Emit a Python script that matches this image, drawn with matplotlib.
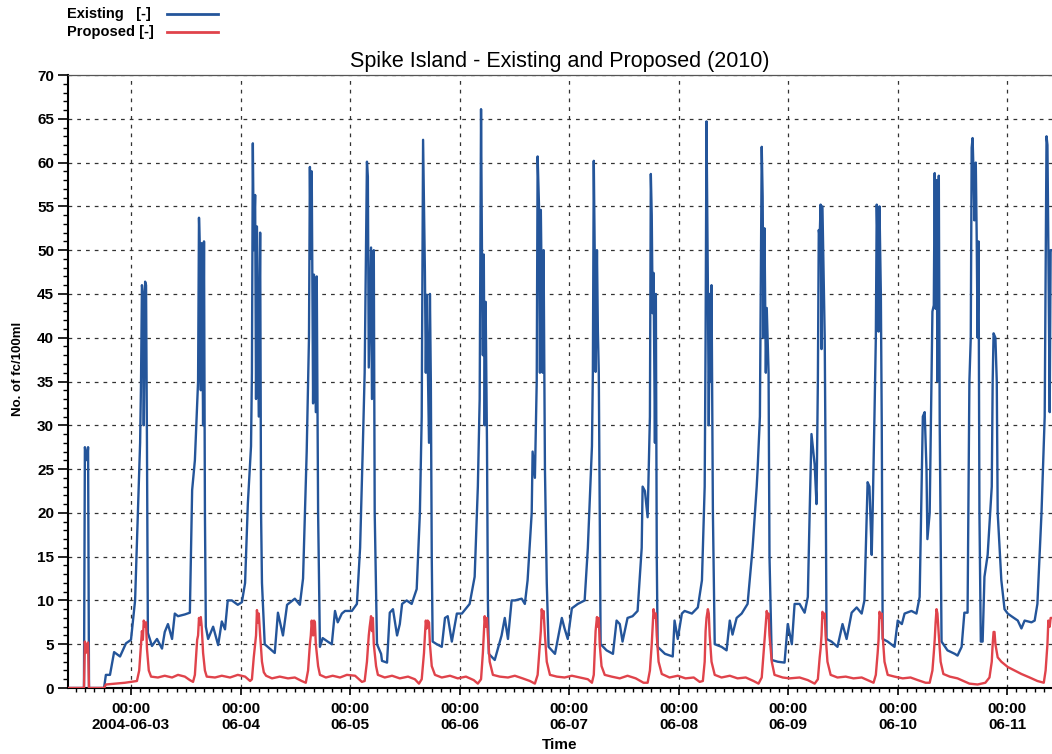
import matplotlib
matplotlib.use("Agg")
import matplotlib.pyplot as plt
import matplotlib.dates as mdates
import pandas as pd
from matplotlib.lines import Line2D
from matplotlib.ticker import MultipleLocator, FixedLocator, FixedFormatter

plt.rcParams['font.family'] = ['Liberation Sans', 'DejaVu Sans']

# ---------------- data ----------------
start = pd.Timestamp("2004-06-02 00:00")

# hours after 2004-06-02 00:00
existing_hours = [10.2, 13.7, 13.9, 14.4, 14.6, 14.8, 18.1, 18.5, 19.4, 20.3, 21.6, 22.9, 24.0, 24.9, 25.5, 26.0, 26.2, 26.4, 26.6, 26.8,
    27.1, 27.3, 27.5, 27.7, 28.6, 29.7, 30.8, 31.4, 32.1, 33.0, 33.6, 34.3, 35.8, 36.9, 37.4, 38.0, 38.7, 38.9, 39.1, 39.3,
    39.5, 39.8, 40.0, 40.2, 40.4, 40.9, 42.0, 43.1, 43.9, 44.6, 45.2, 46.1, 47.4, 48.3, 49.0, 49.6, 50.3, 50.5, 50.7, 50.9,
    51.2, 51.4, 51.6, 52.0, 52.3, 52.5, 52.7, 53.3, 54.4, 55.5, 56.2, 57.3, 58.2, 59.9, 61.0, 61.7, 62.5, 63.0, 63.2, 63.4,
    63.6, 63.9, 64.1, 64.5, 64.7, 65.0, 65.4, 66.0, 67.1, 68.0, 68.7, 69.3, 70.2, 70.9, 72.4, 73.5, 74.2, 74.8, 75.2, 75.7,
    75.9, 76.1, 76.6, 76.8, 77.2, 77.4, 77.9, 78.8, 79.0, 80.1, 80.7, 81.4, 82.3, 82.9, 83.4, 84.4, 85.5, 86.6, 87.3, 87.7,
    88.0, 88.4, 88.6, 88.8, 89.3, 89.5, 89.7, 89.9, 90.1, 91.0, 92.1, 92.8, 93.4, 94.3, 95.4, 96.5, 97.6, 98.2, 99.3, 100.0,
    100.4, 100.7, 100.9, 101.1, 101.3, 101.5, 101.7, 102.0, 102.2, 102.4, 103.7, 105.2, 105.9, 106.6, 107.4, 108.1, 109.6, 110.3, 110.9, 111.8,
    112.0, 112.5, 112.9, 113.1, 113.4, 113.6, 113.8, 114.2, 114.4, 114.7, 115.1, 115.5, 116.9, 118.4, 119.0, 119.7, 120.6, 121.9, 123.4, 124.1,
    125.0, 125.2, 125.4, 125.6, 125.8, 126.1, 126.3, 126.5, 126.7, 126.9, 128.2, 129.6, 130.4, 131.1, 131.7, 132.8, 133.9, 135.0, 135.9, 136.1,
    136.6, 137.2, 137.7, 137.9, 138.1, 138.3, 138.5, 138.8, 139.0, 139.2, 139.4, 141.0, 142.7, 143.1, 143.8, 144.7, 145.3, 146.9, 148.2, 149.1,
    149.7, 149.9, 150.1, 150.4, 150.6, 150.8, 151.0, 151.2, 151.5, 151.9, 153.4, 154.5, 155.2, 155.8, 156.7, 157.8, 159.1, 160.2, 161.1, 161.3,
    161.8, 162.2, 162.4, 162.6, 162.8, 163.1, 163.3, 163.5, 163.7, 163.9, 164.4, 165.7, 167.2, 167.9, 168.8, 169.4, 170.5, 171.6, 172.3, 172.7,
    173.1, 173.8, 174.2, 174.5, 174.7, 174.9, 175.1, 175.3, 175.5, 176.0, 176.2, 176.4, 177.5, 178.8, 179.9, 180.8, 181.9, 183.0, 184.1, 184.7,
    185.4, 185.8, 186.3, 186.5, 186.9, 187.2, 187.4, 187.6, 187.8, 188.0, 188.3, 188.5, 188.7, 189.8, 191.3, 192.0, 192.9, 193.5, 195.0, 196.1,
    196.8, 197.5, 197.9, 198.3, 198.5, 199.0, 199.6, 199.9, 200.1, 200.3, 200.5, 200.7, 201.0, 201.2, 201.6, 202.9, 204.5, 205.1, 206.0, 206.6,
    207.3, 207.7, 208.0, 208.2, 208.4, 208.6, 208.8, 209.1, 209.3, 209.5, 209.7, 209.9, 210.2, 210.6, 211.0, 211.7, 212.6, 212.8, 213.0, 213.4,
    213.7, 213.9, 214.7, 215.4, 216.1, 216.9, 218.3, 219.1, 219.8, 221.3, 222.0, 222.6, 223.5, 224.2, 224.6, 224.8, 225.0, 225.3, 225.5, 225.9]

existing_values = [0, 0, 27.5, 26, 27.5, 0, 0, 1.5, 1.5, 4.1, 3.6, 5.1, 5.5, 10, 20, 28, 35, 46, 45, 30,
    46.4, 46, 28, 6.3, 4.8, 5.6, 4.5, 6.4, 7.3, 5.6, 8.5, 8.2, 8.4, 8.6, 22.6, 26, 35, 53.7, 50, 34,
    50.8, 30, 51, 20, 7, 5.6, 7, 4.9, 7.6, 6.7, 10, 10, 9.5, 9.8, 12, 21, 27.6, 36, 62.2, 50,
    56.3, 33, 52.7, 31, 52, 20, 12, 5, 4.5, 4, 8.6, 6, 9.5, 10.2, 9.5, 12.5, 27, 40, 59.5, 49,
    59, 32.5, 47.2, 31.5, 47, 20, 4.7, 5.7, 5.3, 5, 8.8, 7.5, 8.5, 8.8, 8.8, 9.6, 16, 27.6, 36, 60.1,
    58.4, 36.6, 50.3, 33, 50, 20, 5, 3.9, 3.1, 2.9, 8.6, 9, 6, 7.3, 9.6, 10, 9.6, 11.3, 20, 31,
    62.6, 47.5, 36, 44.9, 28, 45, 35, 15, 5.3, 5, 4.7, 8, 8.2, 5.3, 8.5, 8.5, 9.2, 9.6, 12.7, 23,
    33, 66.1, 50, 38, 49.5, 30, 44.1, 28, 10, 3.9, 3.2, 6, 8, 5.6, 10, 10, 10.2, 9.6, 12.3, 20,
    27, 24, 35, 60.7, 55, 36, 54.6, 36, 50, 25, 12, 4.7, 3.9, 8, 6.8, 5.6, 9.1, 9.6, 10, 16,
    27.6, 36, 60.2, 50, 36.1, 50, 40.7, 36, 20, 5, 4.3, 3.9, 7.7, 7.3, 5.3, 8, 8.2, 8.8, 16, 23,
    22.5, 19.5, 31, 58.7, 54, 42.8, 47.4, 28, 45, 15, 4.7, 3.9, 3.6, 7.7, 5.6, 8.5, 8.8, 8.5, 9.2, 12.3,
    23, 40, 64.7, 46, 30, 45, 35, 46, 20, 5, 4.7, 4.3, 7.7, 6.1, 8, 8.5, 9.6, 16, 23, 25,
    31, 61.8, 56.1, 40, 52.5, 36, 43.4, 39.8, 36, 15, 3.2, 3, 2.9, 7.3, 5, 9.6, 9.6, 8.6, 10.4, 20,
    29, 25.5, 21, 35, 52.3, 51.5, 55.2, 38.7, 55, 40, 25, 5.6, 5.3, 4.7, 7.3, 5.6, 8.6, 9.2, 8.5, 10,
    23.5, 23, 15.2, 20, 31, 40, 55.2, 50.2, 40.7, 55, 45, 30, 5.6, 5.3, 4.7, 7.7, 7.3, 8.5, 8.8, 8.5,
    10.4, 31, 31.5, 25, 17, 20, 43, 43.7, 58.8, 43.3, 58, 35, 58.5, 30, 5.3, 4.3, 3.9, 3.7, 4.7, 8.6,
    8.6, 35, 40, 61.7, 62.8, 59, 53.4, 60, 51.5, 40, 51, 20, 5.3, 5.3, 12.7, 15.2, 23, 35, 40.5, 40,
    35, 20, 12.3, 9, 8.5, 8.2, 7.7, 6.8, 7.7, 7.5, 7.7, 9.6, 20, 31, 63, 62, 50.4, 31.5, 50, 50]

proposed_hours = [10.2, 13.7, 13.9, 14.1, 14.4, 14.6, 14.8, 18.1, 18.5, 20.5, 22.7, 24.0, 25.3, 25.8, 26.2, 26.4, 26.6, 26.8, 27.1, 27.3,
    27.5, 27.9, 28.4, 29.9, 31.4, 33.0, 34.3, 35.8, 36.9, 37.6, 38.0, 38.5, 38.7, 38.9, 39.1, 39.3, 39.5, 39.8, 40.2, 40.6,
    42.4, 43.9, 45.7, 47.4, 49.0, 50.1, 50.5, 50.9, 51.2, 51.4, 51.6, 51.8, 52.0, 52.3, 52.7, 53.1, 53.6, 54.9, 56.6, 58.4,
    59.9, 61.4, 62.3, 62.8, 63.2, 63.4, 63.6, 63.9, 64.1, 64.3, 64.5, 65.0, 65.4, 66.7, 68.2, 69.8, 71.3, 73.1, 74.6, 75.2,
    75.7, 76.1, 76.3, 76.6, 76.8, 77.0, 77.2, 77.7, 78.1, 79.6, 81.2, 82.9, 84.7, 86.2, 87.1, 87.7, 88.2, 88.4, 88.6, 88.8,
    89.0, 89.3, 89.5, 89.9, 90.6, 92.1, 93.9, 95.6, 97.4, 99.1, 100.0, 100.7, 101.1, 101.3, 101.5, 101.7, 102.0, 102.2, 102.6, 103.3,
    104.8, 106.6, 108.1, 109.8, 111.4, 112.5, 113.1, 113.6, 113.8, 114.0, 114.2, 114.4, 114.7, 115.1, 115.8, 117.3, 119.0, 120.6, 122.3, 124.1,
    125.0, 125.4, 125.6, 125.8, 126.1, 126.3, 126.5, 126.7, 127.1, 127.8, 129.3, 131.1, 132.8, 134.6, 136.3, 137.2, 137.7, 138.1, 138.3, 138.5,
    138.8, 139.0, 139.2, 139.6, 140.3, 142.0, 143.8, 145.5, 147.3, 148.6, 149.3, 149.7, 149.9, 150.1, 150.4, 150.6, 150.8, 151.2, 151.9, 153.4,
    155.2, 156.9, 158.7, 160.4, 161.5, 162.2, 162.6, 162.8, 163.1, 163.3, 163.5, 163.7, 163.9, 164.4, 165.0, 166.8, 168.3, 170.5, 172.3, 173.8,
    174.5, 174.9, 175.1, 175.3, 175.5, 175.8, 176.0, 176.2, 176.6, 177.3, 178.8, 180.6, 182.3, 184.1, 185.8, 186.7, 187.2, 187.6, 187.8, 188.0,
    188.3, 188.5, 188.7, 189.1, 189.8, 191.3, 193.1, 194.8, 196.4, 198.1, 199.0, 199.6, 199.9, 200.1, 200.3, 200.5, 200.7, 201.0, 201.4, 202.0,
    203.4, 205.1, 206.4, 207.7, 209.5, 211.2, 212.1, 212.6, 212.8, 213.0, 213.2, 213.4, 213.9, 214.7, 216.1, 217.6, 219.1, 220.9, 222.6, 224.0,
    224.4, 224.8, 225.0, 225.3, 225.5, 225.9]

proposed_values = [0, 0, 5.3, 4, 5, 5.2, 0, 0, 0.4, 0.5, 0.6, 0.7, 0.8, 2, 5, 6.5, 5.5, 7.7, 7, 7.5,
    4.5, 2, 1.3, 1.2, 1.4, 1.2, 1.5, 1.3, 0.9, 0.7, 1.5, 5.5, 6, 8, 7.2, 8.1, 7, 4, 2, 1.3,
    1.2, 1.4, 1.2, 1.5, 1.3, 0.8, 1, 3.5, 5, 6, 8.9, 7.5, 8.5, 6, 3, 1.8, 1.4, 1.1, 1.3, 1.1,
    1.2, 0.8, 0.6, 2, 5, 6, 7.7, 6, 7.7, 7.5, 5, 2.5, 1.5, 1.2, 1.4, 1.2, 1.5, 1.4, 0.7, 0.8,
    3, 6, 7, 8.2, 6.5, 8, 5, 2.5, 1.5, 1.2, 1.4, 1.1, 1.3, 1.0, 0.5, 1, 4, 6, 7.7, 6.8,
    7.7, 7.5, 5, 2.5, 1.5, 1.2, 1.4, 1.1, 1.3, 0.9, 0.5, 1, 4, 6, 8.2, 7, 8, 6, 3, 1.5,
    1.3, 1.2, 1.4, 1.1, 0.8, 0.5, 1.5, 5, 6.5, 9, 8, 8.8, 6, 3, 1.5, 1.3, 1.2, 1.4, 1.2, 1.0,
    0.6, 1.5, 4, 6.5, 8.1, 7, 8, 5, 2.5, 1.5, 1.3, 1.1, 1.4, 1.1, 0.6, 0.6, 2, 5, 7, 9,
    8, 8.5, 6, 3, 1.6, 1.2, 1.4, 1.1, 1.2, 0.7, 0.8, 3, 6.5, 8, 9, 8.5, 6, 3, 1.5, 1.2,
    1.4, 1.1, 1.2, 0.8, 0.5, 1.2, 4, 5.5, 7.5, 8.8, 8, 8.5, 6, 3, 1.5, 1.2, 1.1, 1.2, 0.9, 0.5,
    1, 3.5, 4.5, 6, 8.7, 8, 8.5, 6, 3, 1.5, 1.2, 1.3, 1.1, 1.2, 0.8, 0.6, 1.5, 4, 5.5, 8.7,
    8, 8.5, 6, 3, 1.5, 1.3, 1.1, 1.2, 0.9, 0.6, 0.6, 2, 4, 5.5, 7.5, 9, 8.5, 6, 3, 1.6,
    1.3, 1.1, 0.8, 0.5, 0.4, 0.6, 1.2, 3, 5, 6.4, 6.4, 5, 3.5, 3, 2.4, 2, 1.6, 1.2, 0.8, 0.6,
    2, 5, 7.7, 7, 8, 8]

tick_days = ["2004-06-03", "2004-06-04", "2004-06-05", "2004-06-06", "2004-06-07",
             "2004-06-08", "2004-06-09", "2004-06-10", "2004-06-11"]
tick_labels = ["00:00\n2004-06-03", "00:00\n06-04", "00:00\n06-05", "00:00\n06-06", "00:00\n06-07",
               "00:00\n06-08", "00:00\n06-09", "00:00\n06-10", "00:00\n06-11"]
y_ticks = [0, 5, 10, 15, 20, 25, 30, 35, 40, 45, 50, 55, 60, 65, 70]

title = "Spike Island - Existing and Proposed (2010)"
series_names = ["Existing   [-]", "Proposed [-]"]
colors = ["#24559a", "#e0434b"]

# ---------------- plot ----------------
def to_num(hours):
    return mdates.date2num((start + pd.to_timedelta(hours, unit="h")).to_pydatetime())

ex_t = to_num(existing_hours)
pr_t = to_num(proposed_hours)

fig = plt.figure(figsize=(10.52, 7.54), dpi=100)
ax = fig.add_axes([68 / 1052, 1 - 688 / 754, (1052 - 68) / 1052, (688 - 75) / 754])

ax.plot(ex_t, existing_values, color=colors[0], lw=1.7, solid_joinstyle="round", zorder=3)
ax.plot(pr_t, proposed_values, color=colors[1], lw=1.7, solid_joinstyle="round", zorder=4)

ax.set_xlim(to_num([10.2])[0], to_num([225.8])[0])
ax.set_ylim(0, 70)

ax.xaxis.set_major_locator(FixedLocator(mdates.date2num(pd.to_datetime(tick_days).to_pydatetime())))
ax.xaxis.set_major_formatter(FixedFormatter(tick_labels))
ax.xaxis.set_minor_locator(mdates.HourLocator(byhour=range(0, 24, 2)))

ax.yaxis.set_major_locator(FixedLocator(y_ticks))
ax.yaxis.set_minor_locator(MultipleLocator(1))

ax.tick_params(axis="x", which="major", direction="out", length=5, width=1.2, pad=5,
               labelsize=11)
ax.tick_params(axis="x", which="minor", direction="out", length=3, width=1.0)
ax.tick_params(axis="y", which="major", direction="out", length=7, width=1.2, pad=3,
               labelsize=11)
ax.tick_params(axis="y", which="minor", direction="out", length=3.5, width=1.0)
for lab in ax.get_xticklabels() + ax.get_yticklabels():
    lab.set_fontweight("bold")

ax.grid(True, which="major", color="#333333", lw=0.9, linestyle=(0, (3, 4)))
ax.set_axisbelow(True)

ax.spines["right"].set_visible(False)
ax.spines["top"].set_color("#555555")
ax.spines["top"].set_linewidth(0.9)
ax.spines["left"].set_linewidth(1.5)
ax.spines["bottom"].set_linewidth(1.5)

ax.set_title(title, fontsize=15.5, pad=6)
ax.set_xlabel("Time", fontsize=11, fontweight="bold", labelpad=4)
ax.set_ylabel("No. of fc/100ml", fontsize=9.5, fontweight="bold")
ax.yaxis.set_label_coords(-0.045, 0.52)

# legend at the top left
for i, (name, c) in enumerate(zip(series_names, colors)):
    yy = 1 - (14 + 18 * i) / 754
    fig.text(67 / 1052, yy, name, fontsize=10.5, fontweight="bold", va="center", ha="left")
    fig.add_artist(Line2D([167 / 1052, 218 / 1052], [yy, yy], color=c, lw=2,
                          transform=fig.transFigure))

fig.savefig("out.png", dpi=100)
